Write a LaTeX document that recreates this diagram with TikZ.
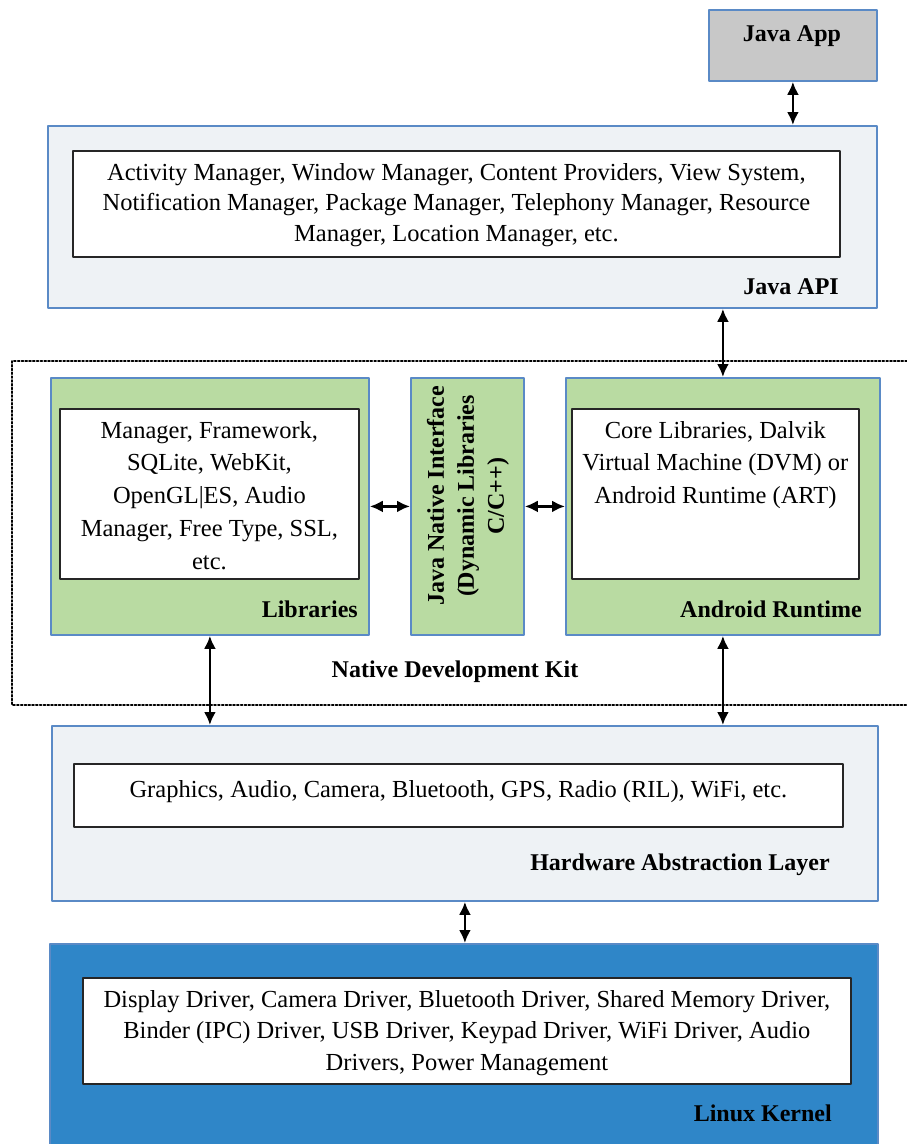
\documentclass[tikz,border=0pt]{standalone}
\usepackage{fontspec}
\setmainfont{Liberation Serif}
\usetikzlibrary{arrows.meta,positioning}

\definecolor{edgeblue}{HTML}{5A8AC6}
\definecolor{appgray}{HTML}{C8C8C8}
\definecolor{paleblue}{HTML}{EEF2F5}
\definecolor{runtimegreen}{HTML}{B9DBA2}
\definecolor{kernelblue}{HTML}{2F86C8}

\begin{document}
\begin{tikzpicture}[x=1bp, y=1bp, line cap=round, line join=round,
  layer/.style={draw=edgeblue, line width=1.8bp, anchor=north west, inner sep=0pt},
  listbox/.style={draw=black!85, fill=white, line width=1.8bp, anchor=north west, inner sep=0pt},
  body/.style={anchor=north, inner sep=0pt, align=center, font=\fontsize{24.5bp}{31bp}\selectfont},
  tag/.style={anchor=base east, inner sep=0pt, font=\bfseries\fontsize{24bp}{28bp}\selectfont},
  link/.style={{Latex[length=13bp,width=12bp]}-{Latex[length=13bp,width=12bp]}, line width=2.5bp, black}]
  \useasboundingbox (0,0) rectangle (907,-1144);

  % native development kit frame
  \coordinate (ndktr) at (907,-361);
  \coordinate (ndkbl) at (12,-705);
  \draw[dotted, line width=1.8bp] (ndktr) -| (ndkbl) -- (ndkbl -| ndktr);
  \node[anchor=base, inner sep=0pt, font=\bfseries\fontsize{24bp}{28bp}\selectfont] (ndk) at (455,-677) {Native Development Kit};

  % java app
  \node[layer, fill=appgray, minimum width=168bp, minimum height=71bp] (app) at (708,-9) {};
  \node[anchor=base, inner sep=0pt, font=\bfseries\fontsize{24bp}{28bp}\selectfont] (applabel) at (792,-41) {Java App};

  % java api
  \node[layer, fill=paleblue, minimum width=829bp, minimum height=182bp] (api) at (47,-125) {};
  \node[listbox, minimum width=767bp, minimum height=106bp] (apibox) at (72,-150) {};
  \node[body, below=13bp of apibox.north, font=\fontsize{24.5bp}{30.5bp}\selectfont] (apitext) {Activity Manager, Window Manager, Content Providers, View System,\\
    Notification Manager, Package Manager, Telephony Manager, Resource\\
    Manager, Location Manager, etc.};
  \node[tag] (apitag) at (839,-294) {Java API};

  % libraries
  \node[layer, fill=runtimegreen, minimum width=318bp, minimum height=257bp] (lib) at (50,-377) {};
  \node[listbox, minimum width=299bp, minimum height=170bp] (libbox) at (59,-408) {};
  \node[body, below=13bp of libbox.north, font=\fontsize{24.5bp}{32.7bp}\selectfont] (libtext) {Manager, Framework,\\
    SQLite, WebKit,\\
    OpenGL|ES, Audio\\
    Manager, Free Type, SSL,\\
    etc.};
  \node[tag] (libtag) at (358,-617) {Libraries};

  % jni
  \node[layer, fill=runtimegreen, minimum width=113bp, minimum height=257bp] (jni) at (410,-377) {};
  \node[inner sep=0pt, rotate=90, align=center, font=\bfseries\fontsize{24bp}{30bp}\selectfont] (jnitext) at (468,-496)
    {Java Native Interface\\(Dynamic Libraries\\C/C++)};

  % android runtime
  \node[layer, fill=runtimegreen, minimum width=314bp, minimum height=257bp] (ar) at (565,-377) {};
  \node[listbox, minimum width=287bp, minimum height=170bp] (arbox) at (571,-408) {};
  \node[body, below=13bp of arbox.north, font=\fontsize{24.5bp}{32.7bp}\selectfont] (artext) {Core Libraries, Dalvik\\
    Virtual Machine (DVM) or\\
    Android Runtime (ART)};
  \node[tag] (artag) at (862,-617) {Android Runtime};

  % hardware abstraction layer
  \node[layer, fill=paleblue, minimum width=826bp, minimum height=175bp] (hal) at (51,-725) {};
  \node[listbox, minimum width=769bp, minimum height=63bp] (halbox) at (73,-763) {};
  \node[body, below=17bp of halbox.north] (haltext) {Graphics, Audio, Camera, Bluetooth, GPS, Radio (RIL), WiFi, etc.};
  \node[tag] (haltag) at (830,-870) {Hardware Abstraction Layer};

  % linux kernel
  \node[layer, fill=kernelblue, minimum width=828bp, minimum height=215bp] (kernel) at (49,-943) {};
  \node[listbox, minimum width=768bp, minimum height=106bp] (kernelbox) at (82,-977) {};
  \node[body, below=13bp of kernelbox.north, font=\fontsize{24.5bp}{31.5bp}\selectfont] (kerneltext) {Display Driver, Camera Driver, Bluetooth Driver, Shared Memory Driver,\\
    Binder (IPC) Driver, USB Driver, Keypad Driver, WiFi Driver, Audio\\
    Drivers, Power Management};
  \node[tag] (kerneltag) at (832,-1121) {Linux Kernel};

  % connectors
  \draw[link] (app.south) -- (app.south |- api.north);
  \draw[link] (ar.north |- api.south) -- (ar.north);
  \draw[link] (lib) -- (jni);
  \draw[link] (jni) -- (ar);
  \draw[link] (lib.south) -- (lib.south |- hal.north);
  \draw[link] (ar.south) -- (ar.south |- hal.north);
  \draw[link] (hal.south) -- (hal.south |- kernel.north);
\end{tikzpicture}
\end{document}
